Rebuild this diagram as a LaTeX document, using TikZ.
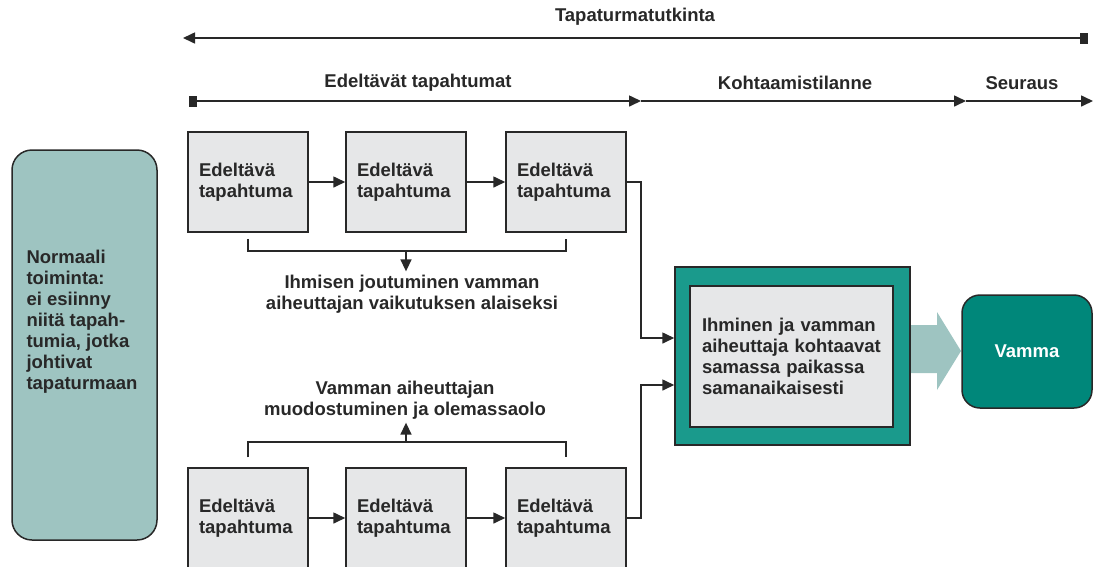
\documentclass[tikz,border=0pt]{standalone}
\usepackage{fontspec}
\setmainfont{Liberation Sans}
\usetikzlibrary{arrows.meta,calc}
\definecolor{tealdark}{RGB}{0,135,122}
\definecolor{tealmid}{RGB}{26,154,140}
\definecolor{teallight}{RGB}{158,196,193}
\definecolor{boxgrey}{RGB}{230,231,232}
\definecolor{linegrey}{RGB}{40,40,40}
\begin{document}
\begin{tikzpicture}[x=1pt,y=-1pt]
\tikzstyle{every node}=[font=\fontsize{18.5}{21}\selectfont\bfseries,text=linegrey]
\tikzstyle{line}=[draw=linegrey,line width=1.6pt]
\tikzstyle{tip}=[-{Triangle[length=12pt,width=11pt]}]
\tikzstyle{event}=[draw=linegrey,line width=1.5pt,fill=boxgrey,minimum width=120pt,minimum height=100pt,text width=98pt,inner xsep=11pt,align=left]
\useasboundingbox (0,0) rectangle (1093,566);
% time lines
\coordinate (ta) at (183,38);
\coordinate (tb) at (1088,38);
\draw[line,{Triangle[length=12pt,width=11pt]}-{Square[length=8pt,width=11pt]}] (ta) -- (tb);
\node (tap) at (635,17) {Tapaturmatutkinta};
\coordinate (s0) at (189,101);
\coordinate (s1) at (641,101);
\coordinate (s2) at (966,101);
\coordinate (s3) at (1093,101);
\draw[line,{Square[length=8pt,width=11pt]}-{Triangle[length=12pt,width=11pt]}] (s0) -- (s1);
\draw[line,tip] (s1) -- (s2);
\draw[line,tip] (s2) -- (s3);
\node (edt) at (418,83) {Edeltävät tapahtumat};
\node (koht) at (795,83) {Kohtaamistilanne};
\node (seur) at (1022,83) {Seuraus};
% normaali toiminta
\node[draw=linegrey,line width=1.5pt,fill=teallight,rounded corners=20pt,minimum width=145pt,minimum height=390pt] (normal) at (84.5,345) {};
\node[anchor=west,align=left] (normaltxt) at (23,322) {Normaali\\toiminta:\\ei esiinny\\niitä tapah-\\tumia, jotka\\johtivat\\tapaturmaan};
% edeltavat tapahtumat
\node[event] (e1) at (248,182) {Edeltävä\\tapahtuma};
\node[event] (e2) at (406,182) {Edeltävä\\tapahtuma};
\node[event] (e3) at (566,182) {Edeltävä\\tapahtuma};
\node[event] (e4) at (248,518) {Edeltävä\\tapahtuma};
\node[event] (e5) at (406,518) {Edeltävä\\tapahtuma};
\node[event] (e6) at (566,518) {Edeltävä\\tapahtuma};
\draw[line,tip] (e1) -- (e2);
\draw[line,tip] (e2) -- (e3);
\draw[line,tip] (e4) -- (e5);
\draw[line,tip] (e5) -- (e6);
% brackets
\node[align=center] (ihm) at (412,294) {Ihmisen joutuminen vamman\\aiheuttajan vaikutuksen alaiseksi};
\node[align=center] (vam) at (405,400) {Vamman aiheuttajan\\muodostuminen ja olemassaolo};
\draw[line] ([yshift=-6pt]e1.south) -- ++(0,12) -| ([yshift=-6pt]e3.south);
\coordinate (upmid) at ($(e2.south)+(0,18)$);
\draw[line,tip] (upmid) -- (upmid |- ihm.north);
\draw[line] ([yshift=10pt]e4.north) -- ++(0,-15) -| ([yshift=10pt]e6.north);
\coordinate (dnmid) at ($(e5.north)+(0,-25)$);
\draw[line,tip] (dnmid) -- (dnmid |- vam.south);
% kohtaaminen
\node[draw=linegrey,line width=1.5pt,fill=tealmid,minimum width=235pt,minimum height=178pt] (meet) at (792.5,356) {};
\node[draw=linegrey,line width=1.5pt,fill=boxgrey,minimum width=203pt,minimum height=141pt,text width=179pt,inner xsep=12pt,align=left] (meetin) at (791.5,356.5) {Ihminen ja vamman\\aiheuttaja kohtaavat\\samassa paikassa\\samanaikaisesti};
\draw[line,tip] (e3.east) -- ++(14,0) |- ([yshift=18pt]meet.west);
\draw[line,tip] (e6.east) -- ++(14,0) |- ([yshift=-29pt]meet.west);
% seuraus
\fill[teallight] (911,325) -- (937,325) -- (937,312) -- (961,351) -- (937,390) -- (937,373) -- (911,373) -- cycle;
\node[draw=linegrey,line width=1.5pt,fill=tealdark,rounded corners=18pt,minimum width=130pt,minimum height=113pt,text=white] (vamma) at (1027,351.5) {Vamma};
\end{tikzpicture}
\end{document}
